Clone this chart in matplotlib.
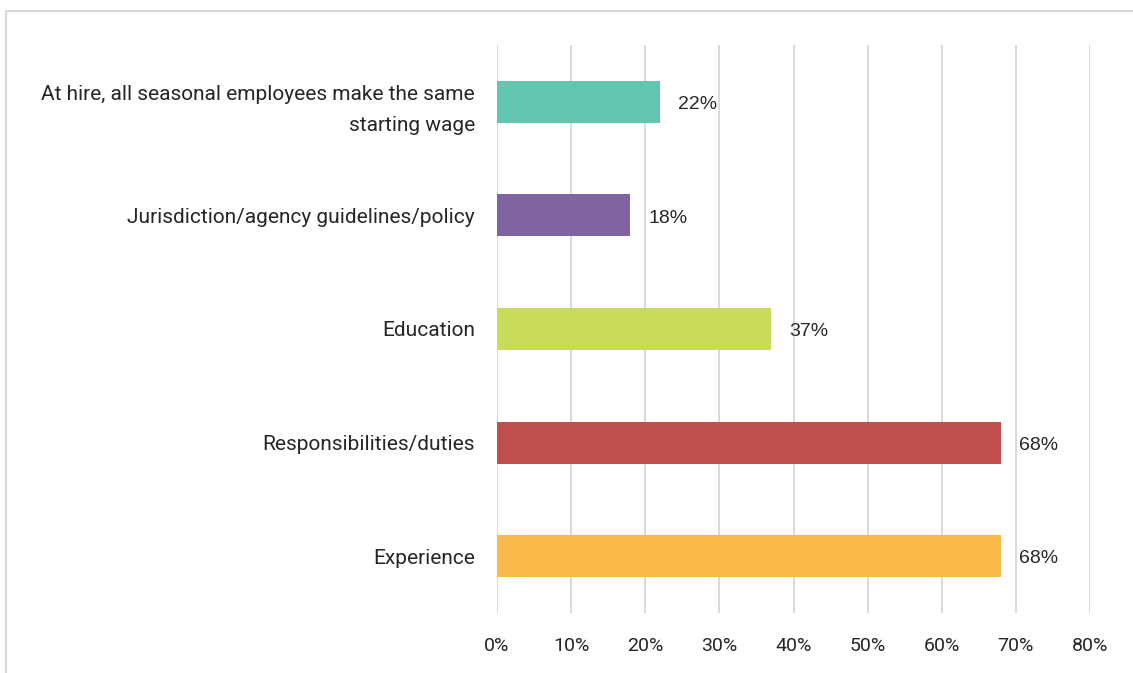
import matplotlib.pyplot as plt
from matplotlib.patches import Rectangle

# Starting-wage factors for seasonal staff (share of respondents)
factors = [
    'Experience',
    'Responsibilities/duties',
    'Education',
    'Jurisdiction/agency guidelines/policy',
    'At hire, all seasonal employees make the same\nstarting wage',
]
shares = [68, 68, 37, 18, 22]
bar_colors = ['#F9B848', '#C0504D', '#C8DB5A', '#8064A2', '#62C5B0']
x_ticks = [0, 10, 20, 30, 40, 50, 60, 70, 80]
x_tick_labels = [f'{t}%' for t in x_ticks]

fig = plt.figure(figsize=(11.33, 6.73), dpi=100)
ax = fig.add_axes([0.4387, 0.0892, 0.5234, 0.8439])

y = range(len(factors))
ax.barh(y, shares, height=0.37, color=bar_colors, zorder=3)

for yi, v in zip(y, shares):
    ax.annotate(f'{v}%', xy=(v, yi), xytext=(13, -2), textcoords='offset points',
                ha='left', va='center', fontsize=14, color='#262626',
                family='Liberation Sans')

ax.set_xlim(0, 80)
ax.set_ylim(-0.5, len(factors) - 0.5)
ax.set_xticks(x_ticks)
ax.set_xticklabels(x_tick_labels, fontsize=14, color='#262626', family='Roboto')
ax.set_yticks(list(y))
ax.set_yticklabels(factors, fontsize=15, color='#262626', family='Roboto',
                   linespacing=1.8)
ax.tick_params(length=0)
ax.tick_params(axis='x', pad=17)
ax.tick_params(axis='y', pad=16)
ax.grid(axis='x', color='#D3D3D3', linewidth=1.2, zorder=0)
for s in ax.spines.values():
    s.set_visible(False)

# light outer frame
fig.patches.append(Rectangle((6 / 1133, -0.05), 1.2, 1 - 11 / 673 + 0.05,
                             transform=fig.transFigure, fill=False,
                             edgecolor='#D9D9D9', linewidth=1.5))

fig.savefig('out.png', dpi=100)
